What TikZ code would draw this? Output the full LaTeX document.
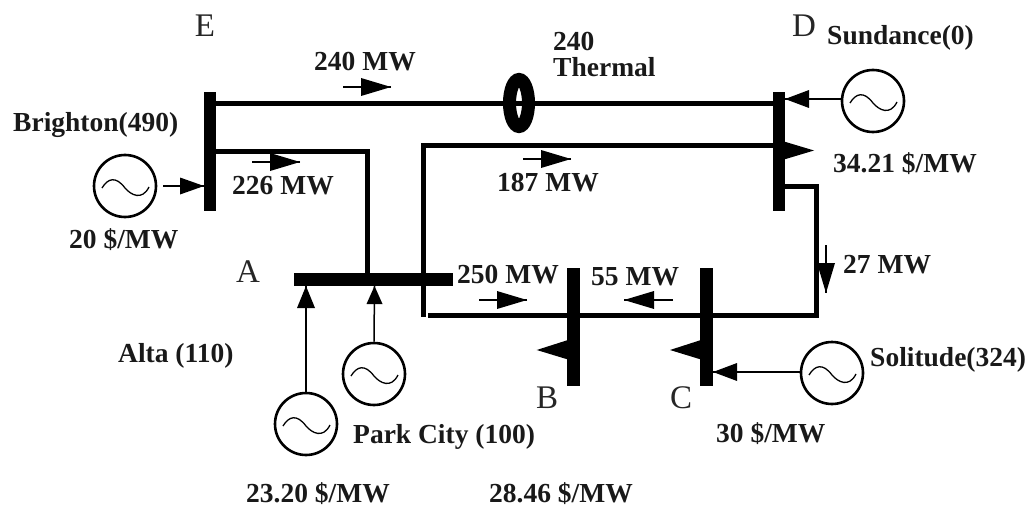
\documentclass[tikz,border=0pt]{standalone}
\usepackage{fontspec}
\setmainfont{Liberation Serif}
\usetikzlibrary{calc,shapes.geometric}
\tikzset{
  busbar/.style={fill=black,draw=none},
  wire/.style={line width=5pt,line join=miter},
  gen/.style={circle,draw,line width=2.6pt,minimum size=62pt,inner sep=0pt},
  feed/.style={line width=1.5pt},
  tri/.style={fill=black,draw=none},
  lab/.style={font=\fontsize{27.5}{29}\selectfont\bfseries,inner sep=0pt,anchor=west,text=black!90},
  letter/.style={font=\fontsize{33}{35}\selectfont,inner sep=0pt,text=black!85},
}
\newcommand{\wavy}[1]{\draw[line width=1.3pt] ($(#1)+(-23,2)$) .. controls ($(#1)+(-17,-8)$) and ($(#1)+(-9,-10)$) .. ($(#1)+(0,2)$) .. controls ($(#1)+(6,9)$) and ($(#1)+(17,15)$) .. ($(#1)+(24,1)$);}
\begin{document}
\begin{tikzpicture}[x=1pt,y=-1pt]
\useasboundingbox (0,0) rectangle (1032,508);
% buses
\node[busbar,minimum width=12pt,minimum height=119pt,inner sep=0pt] (busE) at (209.5,151.5) {};
\node[busbar,minimum width=12.5pt,minimum height=119pt,inner sep=0pt] (busD) at (778.8,151.5) {};
\node[busbar,minimum width=159pt,minimum height=13pt,inner sep=0pt] (busA) at (373.5,279.5) {};
\node[busbar,minimum width=13pt,minimum height=118pt,inner sep=0pt] (busB) at (573.5,327) {};
\node[busbar,minimum width=13pt,minimum height=118pt,inner sep=0pt] (busC) at (706.5,327) {};
% wires
\coordinate (cAE) at (367.5,151);
\coordinate (cTop) at (423,145);
\coordinate (cLow) at (423,317);
\coordinate (cBL) at (428,315);
\coordinate (cBR) at (816,315);
\coordinate (cDR) at (816,186);
\draw[wire] (busE.center |- 0,104) -- (busD.center |- 0,104);
\draw[wire] (busE.center |- cAE) -- (cAE) -- (cAE |- busA.center);
\draw[wire] (busD.center |- cTop) -- (cTop) -- (cLow);
\draw[wire] (cBL) -- (cBR) -- (cDR) -- (busD.center |- cDR);
% generators
\node[gen] (gBr) at (125,186) {};
\node[gen] (gSu) at (873,101) {};
\node[gen] (gAl) at (306,424) {};
\node[gen] (gPa) at (374,374) {};
\node[gen] (gSo) at (832,373) {};
\wavy{gBr}\wavy{gSu}\wavy{gAl}\wavy{gPa}\wavy{gSo}
% feeds
\coordinate (tBr) at (204,186);
\coordinate (tSu) at (785,99);
\coordinate (tAl) at (306,286);
\coordinate (tPa) at (374.5,286);
\coordinate (tSo) at (713,372);
\draw[feed] (gBr.east) ++(6,0) -- (tBr);
\draw[feed] (tSu -| gSu.west) -- (tSu);
\draw[feed] (gAl.north) -- (tAl);
\draw[feed] (gPa.north) -- (tPa);
\draw[feed] (tSo -| gSo.west) -- (tSo);
\fill[tri] (tBr) -- ++(-24,-8.5) -- ++(0,17) -- cycle;
\fill[tri] (tSu) -- ++(24,-9) -- ++(0,18) -- cycle;
\fill[tri] (tAl) -- ++(-9,22) -- ++(18,0) -- cycle;
\fill[tri] (tPa) -- ++(-8,18) -- ++(16,0) -- cycle;
\fill[tri] (tSo) -- ++(24,-9) -- ++(0,18) -- cycle;
% load triangles
\fill[tri] (536.7,350) -- (568,340) -- (568,359.5) -- cycle;
\fill[tri] (670,350) -- (701,340) -- (701,359.5) -- cycle;
\fill[tri] (814,150.5) -- (784,141.5) -- (784,159.5) -- cycle;
% flow arrows
\newcommand{\flow}[4]{\coordinate (fa#4) at (#1,#3); \coordinate (fb#4) at (#2,#3);
 \draw[feed] (fa#4) -- (fb#4);
 \fill[tri] (fb#4) -- ($(fb#4)!30pt!(fa#4)+(0,-9)$) -- ($(fb#4)!30pt!(fa#4)+(0,9)$) -- cycle;}
\flow{343}{391}{87}{a}
\flow{252}{300}{162}{b}
\flow{523}{571}{159}{c}
\flow{479}{527}{300}{d}
\flow{673}{624}{300}{e}
\coordinate (fa) at (826,245);
\coordinate (fb) at (826,293);
\draw[feed] (fa) -- (fb);
\fill[tri] (fb) -- ++(-9,-30) -- ++(18,0) -- cycle;
% thermal ring
\node[draw,ellipse,line width=13pt,minimum width=19pt,minimum height=47pt,inner sep=0pt] (ring) at (519,103) {};
% labels
\node[lab] (l1) at (314,62) {240 MW};
\node[lab] (l2) at (13,125) {Brighton(490)};
\node[lab] (l3) at (232,186) {226 MW};
\node[lab] (l4) at (69,240) {20 \$/MW};
\node[lab] (l5) at (553,41) {240};
\node[lab] (l6) at (553,67) {Thermal};
\node[lab] (l7) at (827,38) {Sundance(0)};
\node[lab] (l8) at (833,164) {34.21 \$/MW};
\node[lab] (l9) at (497,183) {187 MW};
\node[lab] (l10) at (843,265) {27 MW};
\node[lab] (l11) at (457,275) {250 MW};
\node[lab] (l12) at (591,277) {55 MW};
\node[lab] (l13) at (118,356) {Alta (110)};
\node[lab] (l14) at (353,437) {Park City (100)};
\node[lab] (l15) at (870,360) {Solitude(324)};
\node[lab] (l16) at (716,434) {30 \$/MW};
\node[lab] (l17) at (246,494) {23.20 \$/MW};
\node[lab] (l18) at (489,494) {28.46 \$/MW};
\node[letter] (E) at (205,26) {E};
\node[letter] (D) at (804,26) {D};
\node[letter] (A) at (248,272) {A};
\node[letter] (B) at (547,398) {B};
\node[letter] (C) at (681,398) {C};
\end{tikzpicture}
\end{document}
